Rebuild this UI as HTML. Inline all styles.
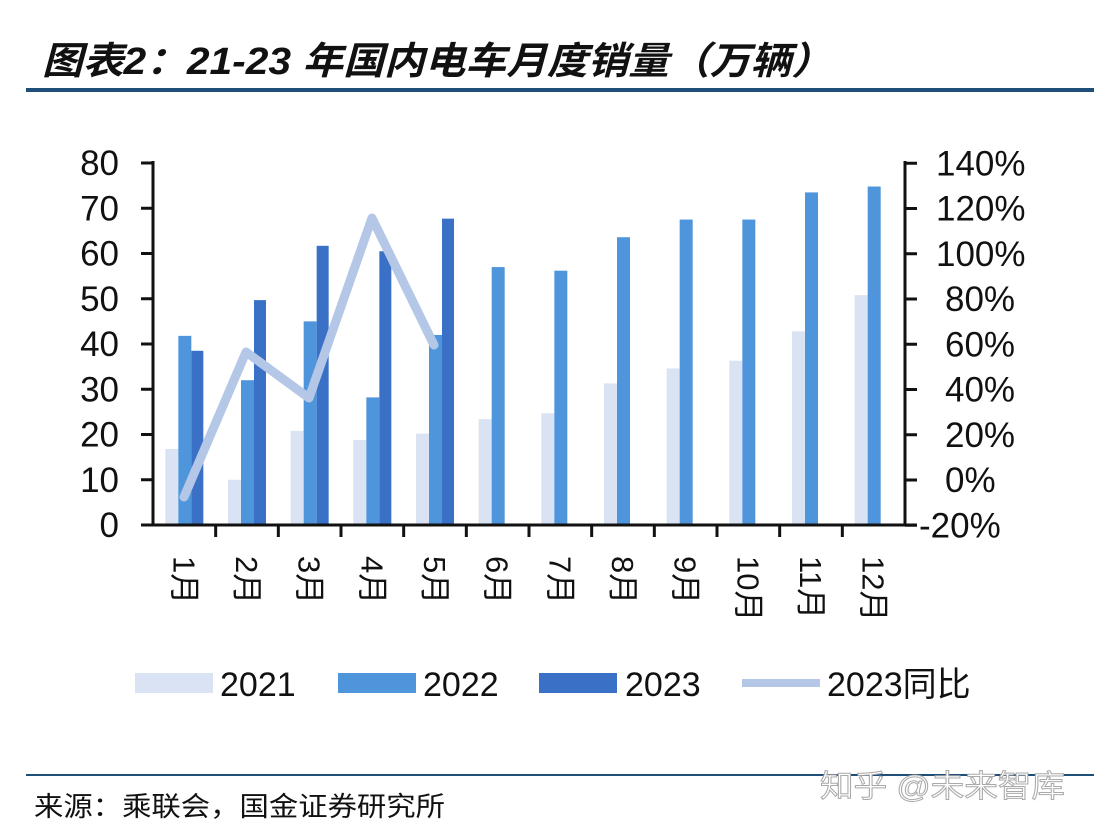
<!DOCTYPE html>
<html><head><meta charset="utf-8"><style>
body{margin:0;background:#fff;width:1094px;height:832px;overflow:hidden;font-family:"Liberation Sans","Noto Sans CJK SC",sans-serif;}
</style></head><body>
<svg width="1094" height="832" xmlns="http://www.w3.org/2000/svg" font-family="Liberation Sans, Noto Sans CJK SC, sans-serif">
<text x="42" y="74" font-size="38" font-weight="bold" font-style="italic" fill="#111" textLength="790" lengthAdjust="spacingAndGlyphs">图表2：21-23 年国内电车月度销量（万辆）</text>
<rect x="26" y="88" width="1068" height="4" fill="#1f4e79"/>
<g id="bars"></g>
<g stroke="#111" stroke-width="3" fill="none">
<line x1="153" y1="161" x2="153" y2="526"/>
<line x1="905" y1="161" x2="905" y2="526"/>
<line x1="141" y1="525" x2="917" y2="525"/>
</g>
<g id="ticks" stroke="#111" stroke-width="3"></g>
<g font-size="35" fill="#111" text-anchor="end" id="ly"></g>
<g font-size="35" fill="#111" id="ry"></g>
<polyline points="184,497 246,352 309,398 372,218 434,345" fill="none" stroke="#b4c7e7" stroke-width="9" stroke-linejoin="round" stroke-linecap="round"/>
<g font-size="31" fill="#111" id="mx"></g>
<rect x="135" y="673" width="78" height="20" fill="#dae3f3"/>
<text x="220" y="696" font-size="34" fill="#111">2021</text>
<rect x="338" y="673" width="78" height="20" fill="#4f95db"/>
<text x="423" y="696" font-size="34" fill="#111">2022</text>
<rect x="539" y="673" width="78" height="20" fill="#3a70c6"/>
<text x="625" y="696" font-size="34" fill="#111">2023</text>
<line x1="742" y1="683" x2="820" y2="683" stroke="#b4c7e7" stroke-width="8"/>
<text x="827" y="696" font-size="34" fill="#111">2023同比</text>
<rect x="26" y="774" width="1068" height="2" fill="#1f4e79"/>
<text x="34" y="816" font-size="27" fill="#111" textLength="411" lengthAdjust="spacingAndGlyphs">来源：乘联会，国金证券研究所</text>
<text x="820" y="797" font-size="31" fill="#fff" stroke="#aaa" stroke-width="1" textLength="245" lengthAdjust="spacingAndGlyphs">知乎 @未来智库</text>
<script>
var ns="http://www.w3.org/2000/svg";
function el(p,t,a,txt){var e=document.createElementNS(ns,t);for(var k in a)e.setAttribute(k,a[k]);if(txt)e.textContent=txt;document.getElementById(p).appendChild(e);}
var d1=[16.8,10,20.8,18.8,20.2,23.4,24.7,31.3,34.6,36.3,42.8,50.8];
var d2=[41.8,32,45,28.2,42,57,56.2,63.6,67.5,67.5,73.5,74.8];
var d3=[38.5,49.7,61.7,60.5,67.7];
var w=62.667,s=4.525;
for(var i=0;i<12;i++){var c=153+w*(i+0.5);
el("bars","rect",{x:c-19,y:525-d1[i]*s,width:13,height:d1[i]*s,fill:"#dae3f3"});
el("bars","rect",{x:c-6,y:525-d2[i]*s,width:13,height:d2[i]*s,fill:"#4f95db"});
if(i<5)el("bars","rect",{x:c+7,y:525-d3[i]*s,width:12,height:d3[i]*s,fill:"#3a70c6"});
var tx=153+w*(i+1);if(i<11)el("ticks","line",{x1:tx,y1:525,x2:tx,y2:537});
el("mx","text",{transform:"translate("+(c-11)+",556) rotate(90)"},(i+1)+"月");}
for(var v=0;v<=80;v+=10){var y=525-v*s;el("ticks","line",{x1:141,y1:y,x2:153,y2:y});el("ly","text",{x:119,y:y+12},""+v);}
for(var p=-20;p<=140;p+=20){var y=480-p*2.2625;el("ticks","line",{x1:905,y1:y,x2:917,y2:y});el("ry","text",{x:p<0?919:(p<100?945:936),y:y+12},p+"%");}
</script>
</svg>
</body></html>
